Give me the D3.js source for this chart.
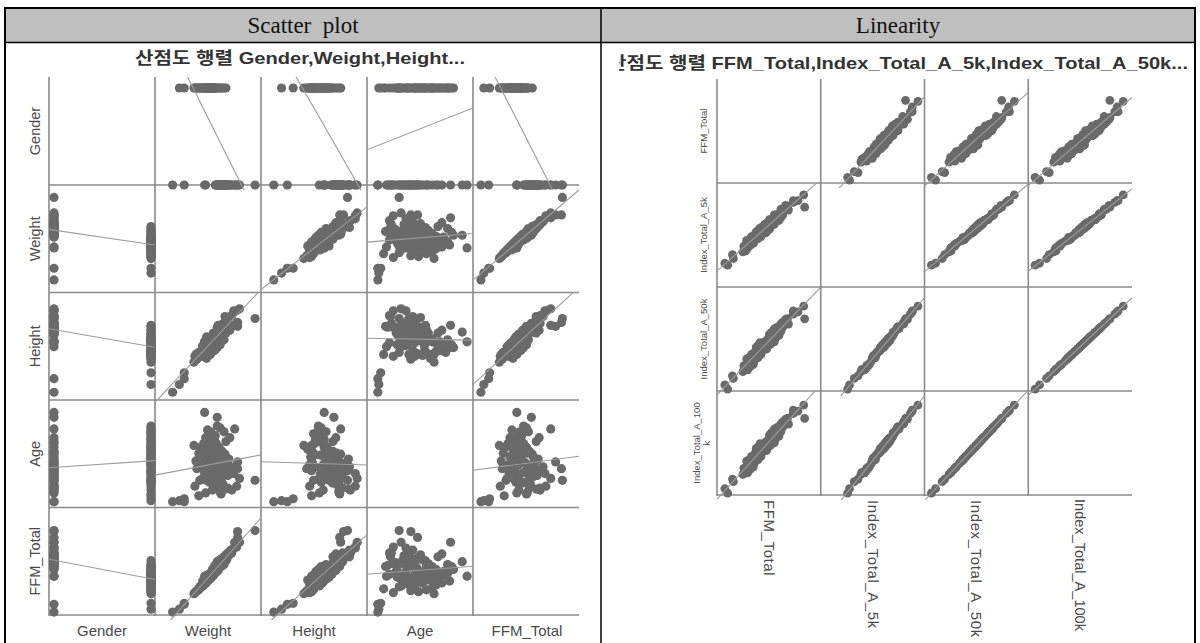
<!DOCTYPE html>
<html><head><meta charset="utf-8">
<script src="https://cdn.jsdelivr.net/npm/d3@7"></script>
<style>html,body{margin:0;padding:0;background:#fff;} svg{display:block;}</style>
</head><body>
<svg id="c" width="1200" height="643"></svg>
<script>
// ---------------- data ----------------
const headers = ["Scatter  plot", "Linearity"];
const leftTitle = "산점도 행렬 Gender,Weight,Height...";
const rightTitle = "산점도 행렬 FFM_Total,Index_Total_A_5k,Index_Total_A_50k...";
const leftVars = ["Gender", "Weight", "Height", "Age", "FFM_Total"];
const rightVars = ["FFM_Total", "Index_Total_A_5k", "Index_Total_A_50k", "Index_Total_A_100k"];

const gender = [0,1,0,1,1,0,0,0,0,0,0,0,
  0,0,0,0,0,0,0,0,0,0,0,0,0,0,0,0,0,0,0,0,0,0,0,0,0,0,0,0,0,0,0,0,1,1,1,1,1,1,1,1,1,1,0,0,
  1,1,1,1,1,1,1,1,1,1,1,1,1,1,1,1,1,1,1,1,1,1,1,1,1,1,1,1,1,1,1,1,1,1,1,1,1,1,1,1,1,1];
const weight = [13,20,25,25,40,47,98,80,80,46,59,77,
  82,79,76,74,73,72,71,70,70,69,68,68,67,66,66,65,65,64,64,63,63,62,62,61,61,60,60,59,59,58,58,57,56,56,55,54,53,52,50,48,46,44,67,61,
  68,66,64,62,60,59,58,57,56,56,55,55,54,54,53,53,52,52,51,51,50,50,49,49,48,48,47,47,46,46,45,45,44,43,42,41,40,38,37,36,35,63];
const height = [108,116,122,128,147,155,184,180,176,160,170,177,
  194,192,192,187,186,172,185,179,179,180,184,169,177,171,179,174,175,178,169,176,173,174,175,173,160,177,167,175,161,169,159,168,168,161,169,166,161,158,159,165,160,156,186,175,
  177,162,173,157,172,154,163,152,168,151,160,156,162,159,164,149,163,147,162,157,155,151,154,150,159,143,152,148,157,147,150,146,155,145,147,149,149,142,147,145,139,176];
const age = [6,7,6,9,12,15,28,40,47,98,93,81,
  30,22,35,18,42,72,50,33,20,45,38,68,55,36,40,48,24,32,58,44,27,52,16,38,62,30,46,21,57,34,66,42,26,60,25,36,50,78,44,28,29,54,19,40,
  44,78,56,82,48,84,62,74,52,70,70,34,58,18,46,76,38,64,50,26,68,42,80,54,32,60,72,46,36,38,66,52,30,44,62,28,56,40,48,22,64,14];
const ffmTotal = [3,6,11,12,27,40,87,86,80,40,55,75,
  75,70,69,64,67,63,62,61,64,58,62,60,56,60,55,59,54,57,53,56,52,57,51,55,50,54,49,53,48,52,47,51,46,50,45,47,44,43,42,39,38,35,60,51,
  56,52,51,50,46,47,44,45,42,44,41,43,40,42,39,41,38,40,37,39,36,38,35,37,34,36,33,35,32,34,31,33,30,31,28,29,26,25,24,23,22,50];
const index5k = [25,23,34,30,41,58,84,97,91,62,66,89,
  91,81,85,76,86,77,73,77,82,71,82,70,72,77,68,76,67,76,68,68,69,75,65,76,61,70,67,66,68,67,59,68,65,64,66,58,61,62,56,58,52,56,74,63,
  72,71,65,71,57,63,62,58,63,60,54,61,60,57,61,53,55,59,51,60,52,51,53,57,49,58,46,52,52,48,53,50,44,50,49,45,49,38,42,43,37,70];
const index50k = [6.4,2.0,16.0,13.3,22.2,44.3,76.0,89.3,83.2,51.0,51.7,80.9,
  84.2,70.4,76.2,67.5,75.3,66.7,63.0,65.7,72.6,61.6,70.6,58.5,61.8,65.7,56.1,67.5,52.9,65.5,57.1,55.1,57.3,66.4,50.6,65.5,48.8,57.5,54.9,55.7,54.1,54.9,46.5,55.1,52.6,53.4,51.7,44.3,48.8,48.0,41.9,46.3,35.2,41.9,64.2,49.2,
  60.8,61.6,50.6,59.6,44.1,49.2,49.0,46.3,48.2,46.7,40.6,46.8,46.7,45.1,45.8,38.4,41.8,44.5,36.0,48.7,35.2,36.0,39.4,42.1,33.7,46.3,28.1,37.2,38.2,31.5,38.4,36.9,25.8,34.9,34.7,28.0,33.7,22.7,23.4,26.6,20.5,57.5];
const index100k = [6.6,1.9,16.8,14.0,23.4,46.9,80.6,94.7,88.3,54.0,54.8,85.8,
  89.3,74.6,80.8,71.6,79.9,70.7,66.8,69.7,77.0,65.3,74.9,62.0,65.5,69.7,59.4,71.6,56.0,69.4,60.5,58.4,60.7,70.4,53.6,69.4,51.7,60.9,58.2,59.0,57.3,58.2,49.2,58.4,55.7,56.6,54.8,46.9,51.7,50.8,44.3,49.0,37.2,44.3,68.1,52.1,
  64.4,65.3,53.6,63.2,46.7,52.1,51.9,49.0,51.0,49.5,43.0,49.6,49.5,47.8,48.5,40.6,44.2,47.1,38.1,51.6,37.2,38.1,41.7,44.6,35.6,49.0,29.7,39.4,40.4,33.3,40.6,39.0,27.2,36.9,36.7,29.6,35.6,23.9,24.7,28.1,21.6,60.9];

// ---------------- drawing ----------------
const svg = d3.select("#c");
const DOT = "#6a6a6a", GRID = "#8a8a8a", FIT = "#9c9c9c";
const SANS = "'Liberation Sans', Arial, 'Noto Sans CJK KR', sans-serif";

// table frame
svg.append("rect").attr("x", 6).attr("y", 9).attr("width", 1188).attr("height", 33).attr("fill", "#bfbfbf");
svg.append("rect").attr("x", 5).attr("y", 8).attr("width", 1190).attr("height", 640)
  .attr("fill", "none").attr("stroke", "#000").attr("stroke-width", 2);
svg.append("line").attr("x1", 5).attr("x2", 1195).attr("y1", 42.5).attr("y2", 42.5).attr("stroke", "#000").attr("stroke-width", 1.5);
svg.append("line").attr("x1", 601).attr("x2", 601).attr("y1", 8).attr("y2", 643).attr("stroke", "#000").attr("stroke-width", 1.5);
svg.selectAll("text.hdr").data(headers).enter().append("text").attr("class", "hdr")
  .attr("x", (d, i) => i === 0 ? 303 : 898).attr("y", 33)
  .attr("text-anchor", "middle").attr("font-family", "'Liberation Serif', 'DejaVu Serif', serif")
  .attr("font-size", 23).attr("fill", "#111").style("white-space", "pre").text(d => d);

function linFit(xs, ys) {
  const mx = d3.mean(xs), my = d3.mean(ys);
  let sxy = 0, sxx = 0;
  xs.forEach((x, i) => { sxy += (x - mx) * (ys[i] - my); sxx += (x - mx) * (x - mx); });
  const b = sxy / sxx;
  return [b, my - b * mx];
}

let clipId = 0;
function splom(cfg) {
  const g = svg.append("g");
  const n = cfg.data.length;
  const xS = cfg.data.map((d, j) => d3.scaleLinear().domain(cfg.domains[j])
    .range([cfg.colLeft[j] + cfg.padH, cfg.colLeft[j] + cfg.padH + cfg.span]));
  const yS = cfg.data.map((d, i) => d3.scaleLinear().domain(cfg.domains[i])
    .range([cfg.rowBottom[i], cfg.rowBottom[i] - cfg.span]));
  cfg.colLeft.forEach(x => g.append("line").attr("x1", x).attr("x2", x)
    .attr("y1", cfg.top).attr("y2", cfg.rowBottom[n - 1] + 1)
    .attr("stroke", GRID).attr("stroke-width", 1.6));
  cfg.rowBottom.forEach(y => g.append("line").attr("x1", cfg.colLeft[0]).attr("x2", cfg.right)
    .attr("y1", y).attr("y2", y).attr("stroke", GRID).attr("stroke-width", 1.6));
  for (let i = 0; i < n; i++) {
    for (let j = 0; j < n; j++) {
      if (i === j) continue;
      const x0 = cfg.colLeft[j], x1 = (j < n - 1 ? cfg.colLeft[j + 1] : cfg.right);
      const y1 = cfg.rowBottom[i], y0 = (i > 0 ? cfg.rowBottom[i - 1] : cfg.top);
      const id = "clp" + (clipId++);
      g.append("clipPath").attr("id", id).append("rect")
        .attr("x", x0).attr("y", y0).attr("width", x1 - x0).attr("height", y1 - y0 + 5);
      const xs = cfg.data[j], ys = cfg.data[i];
      g.append("g").selectAll("circle").data(xs).enter().append("circle")
        .attr("cx", d => xS[j](d)).attr("cy", (d, k) => yS[i](ys[k]))
        .attr("r", cfg.r).attr("fill", DOT);
      const [b, a] = linFit(xs, ys);
      const xa = xS[j].invert(x0), xb = xS[j].invert(x1);
      g.append("g").attr("clip-path", "url(#" + id + ")").append("line")
        .attr("x1", x0).attr("y1", yS[i](a + b * xa))
        .attr("x2", x1).attr("y2", yS[i](a + b * xb))
        .attr("stroke", FIT).attr("stroke-width", 1.1);
    }
  }
  return g;
}

// left scatter matrix
const leftG = splom({
  data: [gender, weight, height, age, ffmTotal],
  domains: [[0, 1], [0, 100], [100, 200], [0, 100], [0, 100]],
  colLeft: [49, 155, 261, 367, 473], right: 579,
  rowBottom: [185, 292.5, 400, 507.5, 615], top: 77,
  span: 97, padH: 5, r: 4.6
});
leftG.append("text").attr("x", 300).attr("y", 64).attr("text-anchor", "middle")
  .attr("textLength", 330).attr("lengthAdjust", "spacingAndGlyphs")
  .attr("font-family", SANS).attr("font-weight", "bold").attr("font-size", 17).attr("fill", "#333").text(leftTitle);
const lRowC = [131, 238.75, 346.25, 453.75, 561.25];
leftG.selectAll("text.rl").data(leftVars).enter().append("text").attr("class", "rl")
  .attr("transform", (d, i) => `translate(40,${lRowC[i]}) rotate(-90)`)
  .attr("text-anchor", "middle").attr("font-family", SANS).attr("font-size", 14.5).attr("fill", "#4a4a4a").text(d => d);
const lColC = [102, 208, 314, 420, 527];
leftG.selectAll("text.cl").data(leftVars).enter().append("text").attr("class", "cl")
  .attr("x", (d, i) => lColC[i]).attr("y", 636)
  .attr("text-anchor", "middle").attr("font-family", SANS).attr("font-size", 15).attr("fill", "#4a4a4a").text(d => d);

// right scatter matrix
const rightG = splom({
  data: [ffmTotal, index5k, index50k, index100k],
  domains: [[0, 100], [0, 100], [0, 100], [0, 100]],
  colLeft: [717, 820.75, 924.5, 1028.25], right: 1132,
  rowBottom: [183, 287, 391, 495], top: 79,
  span: 95, padH: 5, r: 4.4
});
svg.append("clipPath").attr("id", "titleclip").append("rect").attr("x", 619).attr("y", 44).attr("width", 575).attr("height", 34);
rightG.append("text").attr("clip-path", "url(#titleclip)").attr("x", 1188).attr("y", 69).attr("text-anchor", "end")
  .attr("textLength", 580).attr("lengthAdjust", "spacingAndGlyphs")
  .attr("font-family", SANS).attr("font-weight", "bold").attr("font-size", 17).attr("fill", "#333").text(rightTitle);
const rRowC = [131, 235, 339, 443];
rightG.selectAll("text.rl").data(rightVars.slice(0, 3)).enter().append("text").attr("class", "rl")
  .attr("transform", (d, i) => `translate(707,${rRowC[i]}) rotate(-90)`)
  .attr("text-anchor", "middle").attr("font-family", SANS).attr("font-size", 9.5).attr("fill", "#4a4a4a").text(d => d);
const lastLbl = [rightVars[3].slice(0, -1), rightVars[3].slice(-1)];
rightG.selectAll("text.rl2").data(lastLbl).enter().append("text").attr("class", "rl2")
  .attr("transform", (d, i) => `translate(${700 + i * 10},${rRowC[3]}) rotate(-90)`)
  .attr("text-anchor", "middle").attr("font-family", SANS).attr("font-size", 9.5).attr("fill", "#4a4a4a").text(d => d);
const rColC = [769, 872.5, 976, 1080];
rightG.selectAll("text.cl").data(rightVars).enter().append("text").attr("class", "cl")
  .attr("transform", (d, i) => `translate(${rColC[i] - 5},${i === 3 ? 499 : 500}) rotate(90)`)
  .attr("text-anchor", "start").attr("font-family", SANS)
  .attr("font-size", (d, i) => i === 3 ? 14 : 15)
  .attr("letter-spacing", (d, i) => i === 3 ? 0 : 0.6)
  .attr("textLength", (d, i) => i === 3 ? 132 : null).attr("lengthAdjust", "spacingAndGlyphs")
  .attr("fill", "#4a4a4a").text(d => d);
</script>
</body></html>
